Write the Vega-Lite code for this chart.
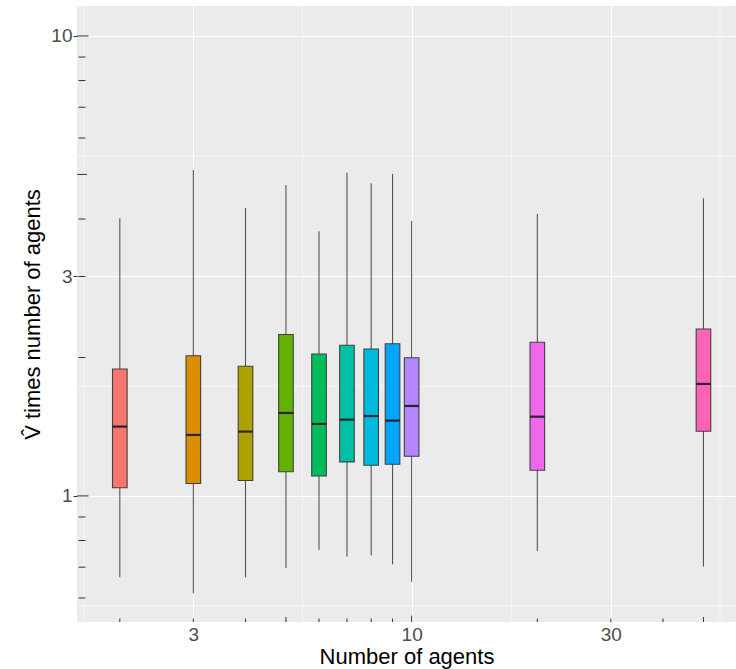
{
  "$schema": "https://vega.github.io/schema/vega-lite/v6.json",
  "width": 659,
  "height": 616,
  "autosize": {"type": "none"},
  "padding": {"left": 77, "top": 6, "right": 0, "bottom": 47},
  "background": "white",
  "config": {
    "view": {"fill": "#EBEBEB", "stroke": null},
    "font": "Liberation Sans",
    "axis": {
      "labelFont": "Liberation Sans",
      "titleFont": "Liberation Sans",
      "labelColor": "#4D4D4D",
      "titleColor": "#000000",
      "titleFontWeight": "normal",
      "labelFontSize": 19,
      "titleFontSize": 22,
      "gridColor": "#FFFFFF",
      "gridWidth": 1.1,
      "gridOpacity": 1,
      "domain": false,
      "tickColor": "#333333"
    }
  },
  "datasets": {
    "boxes": [
      {"n": 2, "lo": 0.666, "q1": 1.042, "med": 1.415, "q3": 1.888, "hi": 4.016},
      {"n": 3, "lo": 0.614, "q1": 1.064, "med": 1.357, "q3": 2.018, "hi": 5.113},
      {"n": 4, "lo": 0.666, "q1": 1.080, "med": 1.380, "q3": 1.914, "hi": 4.227},
      {"n": 5, "lo": 0.697, "q1": 1.129, "med": 1.515, "q3": 2.243, "hi": 4.745},
      {"n": 6, "lo": 0.764, "q1": 1.105, "med": 1.434, "q3": 2.035, "hi": 3.762},
      {"n": 7, "lo": 0.738, "q1": 1.186, "med": 1.465, "q3": 2.126, "hi": 5.044},
      {"n": 8, "lo": 0.743, "q1": 1.166, "med": 1.492, "q3": 2.087, "hi": 4.785},
      {"n": 9, "lo": 0.710, "q1": 1.172, "med": 1.458, "q3": 2.143, "hi": 5.012},
      {"n": 10, "lo": 0.651, "q1": 1.220, "med": 1.569, "q3": 1.998, "hi": 3.962},
      {"n": 20, "lo": 0.759, "q1": 1.137, "med": 1.487, "q3": 2.159, "hi": 4.102},
      {"n": 50, "lo": 0.702, "q1": 1.382, "med": 1.752, "q3": 2.307, "hi": 4.438}
    ],
    "gx": [{"v": 1.643}, {"v": 5.477}, {"v": 17.32}, {"v": 54.77}],
    "gy": [{"v": 0.5774}, {"v": 1.732}, {"v": 5.477}],
    "lx": [
      {"v": 2, "k": "s"}, {"v": 3, "k": "s"}, {"v": 4, "k": "s"}, {"v": 5, "k": "m"},
      {"v": 6, "k": "s"}, {"v": 7, "k": "s"}, {"v": 8, "k": "s"}, {"v": 9, "k": "s"},
      {"v": 10, "k": "l"}, {"v": 20, "k": "s"}, {"v": 30, "k": "s"}, {"v": 40, "k": "s"},
      {"v": 50, "k": "m"}
    ],
    "ly": [
      {"v": 0.6, "k": "s"}, {"v": 0.7, "k": "s"}, {"v": 0.8, "k": "s"}, {"v": 0.9, "k": "s"},
      {"v": 1, "k": "l"}, {"v": 2, "k": "s"}, {"v": 3, "k": "s"}, {"v": 4, "k": "s"},
      {"v": 5, "k": "m"}, {"v": 6, "k": "s"}, {"v": 7, "k": "s"}, {"v": 8, "k": "s"},
      {"v": 9, "k": "s"}, {"v": 10, "k": "l"}
    ]
  },
  "layer": [
    {
      "data": {"name": "gx"},
      "mark": {"type": "rule", "color": "#FFFFFF", "strokeWidth": 0.6},
      "encoding": {
        "x": {"field": "v", "type": "quantitative", "title": "Number of agents",
              "scale": {"type": "log", "domain": [1.6235, 58.2], "nice": false, "zero": false}}
      }
    },
    {
      "data": {"name": "gy"},
      "mark": {"type": "rule", "color": "#FFFFFF", "strokeWidth": 0.6},
      "encoding": {
        "y": {"field": "v", "type": "quantitative", "title": "V\u0302 times number of agents",
              "scale": {"type": "log", "domain": [0.532, 11.62], "nice": false, "zero": false}}
      }
    },
    {
      "data": {"name": "boxes"},
      "mark": {"type": "rule", "color": "#555555", "strokeWidth": 1.1},
      "encoding": {
        "x": {"field": "n", "type": "quantitative", "title": "Number of agents",
              "scale": {"type": "log", "domain": [1.6235, 58.2], "nice": false, "zero": false},
              "axis": {"values": [3, 10, 30], "format": "~g", "ticks": false, "labelPadding": 3, "titlePadding": 2, "grid": true}},
        "y": {"field": "lo", "type": "quantitative", "title": "V\u0302 times number of agents",
              "scale": {"type": "log", "domain": [0.532, 11.62], "nice": false, "zero": false},
              "axis": {"values": [1, 3, 10], "format": "~g", "ticks": true, "tickSize": 4, "tickWidth": 1, "labelPadding": 1, "titlePadding": 6, "grid": true}},
        "y2": {"field": "hi"}
      }
    },
    {
      "data": {"name": "boxes"},
      "mark": {"type": "bar", "size": 14.6, "stroke": "#404040", "strokeWidth": 1.1, "opacity": 1},
      "encoding": {
        "x": {"field": "n", "type": "quantitative", "title": "Number of agents"},
        "y": {"field": "q1", "type": "quantitative", "title": "V\u0302 times number of agents"},
        "y2": {"field": "q3"},
        "color": {"field": "n", "type": "nominal", "legend": null,
                  "scale": {"domain": [2, 3, 4, 5, 6, 7, 8, 9, 10, 20, 50],
                            "range": ["#F8766D", "#DB8E00", "#AEA200", "#64B200", "#00BD5C", "#00C1A7", "#00BADE", "#00A6FF", "#B385FF", "#EF67EB", "#FF63B6"]}}
      }
    },
    {
      "data": {"name": "boxes"},
      "mark": {"type": "tick", "orient": "horizontal", "size": 14.6, "thickness": 2.2, "color": "#262626", "opacity": 1},
      "encoding": {
        "x": {"field": "n", "type": "quantitative", "title": "Number of agents"},
        "y": {"field": "med", "type": "quantitative", "title": "V\u0302 times number of agents"}
      }
    },
    {
      "data": {"name": "lx"},
      "mark": {"type": "tick", "orient": "vertical", "thickness": 1, "color": "#333333", "opacity": 1, "clip": true},
      "encoding": {
        "x": {"field": "v", "type": "quantitative", "title": "Number of agents"},
        "y": {"datum": 0.532, "type": "quantitative", "title": "V\u0302 times number of agents"},
        "size": {"field": "k", "type": "ordinal", "legend": null,
                 "scale": {"domain": ["s", "m", "l"], "range": [7, 13, 19]}}
      }
    },
    {
      "data": {"name": "ly"},
      "mark": {"type": "tick", "orient": "horizontal", "thickness": 1, "color": "#333333", "opacity": 1, "clip": true},
      "encoding": {
        "y": {"field": "v", "type": "quantitative", "title": "V\u0302 times number of agents"},
        "x": {"datum": 1.6235, "type": "quantitative", "title": "Number of agents"},
        "size": {"field": "k", "type": "ordinal", "legend": null,
                 "scale": {"domain": ["s", "m", "l"], "range": [7, 13, 19]}}
      }
    }
  ]
}
